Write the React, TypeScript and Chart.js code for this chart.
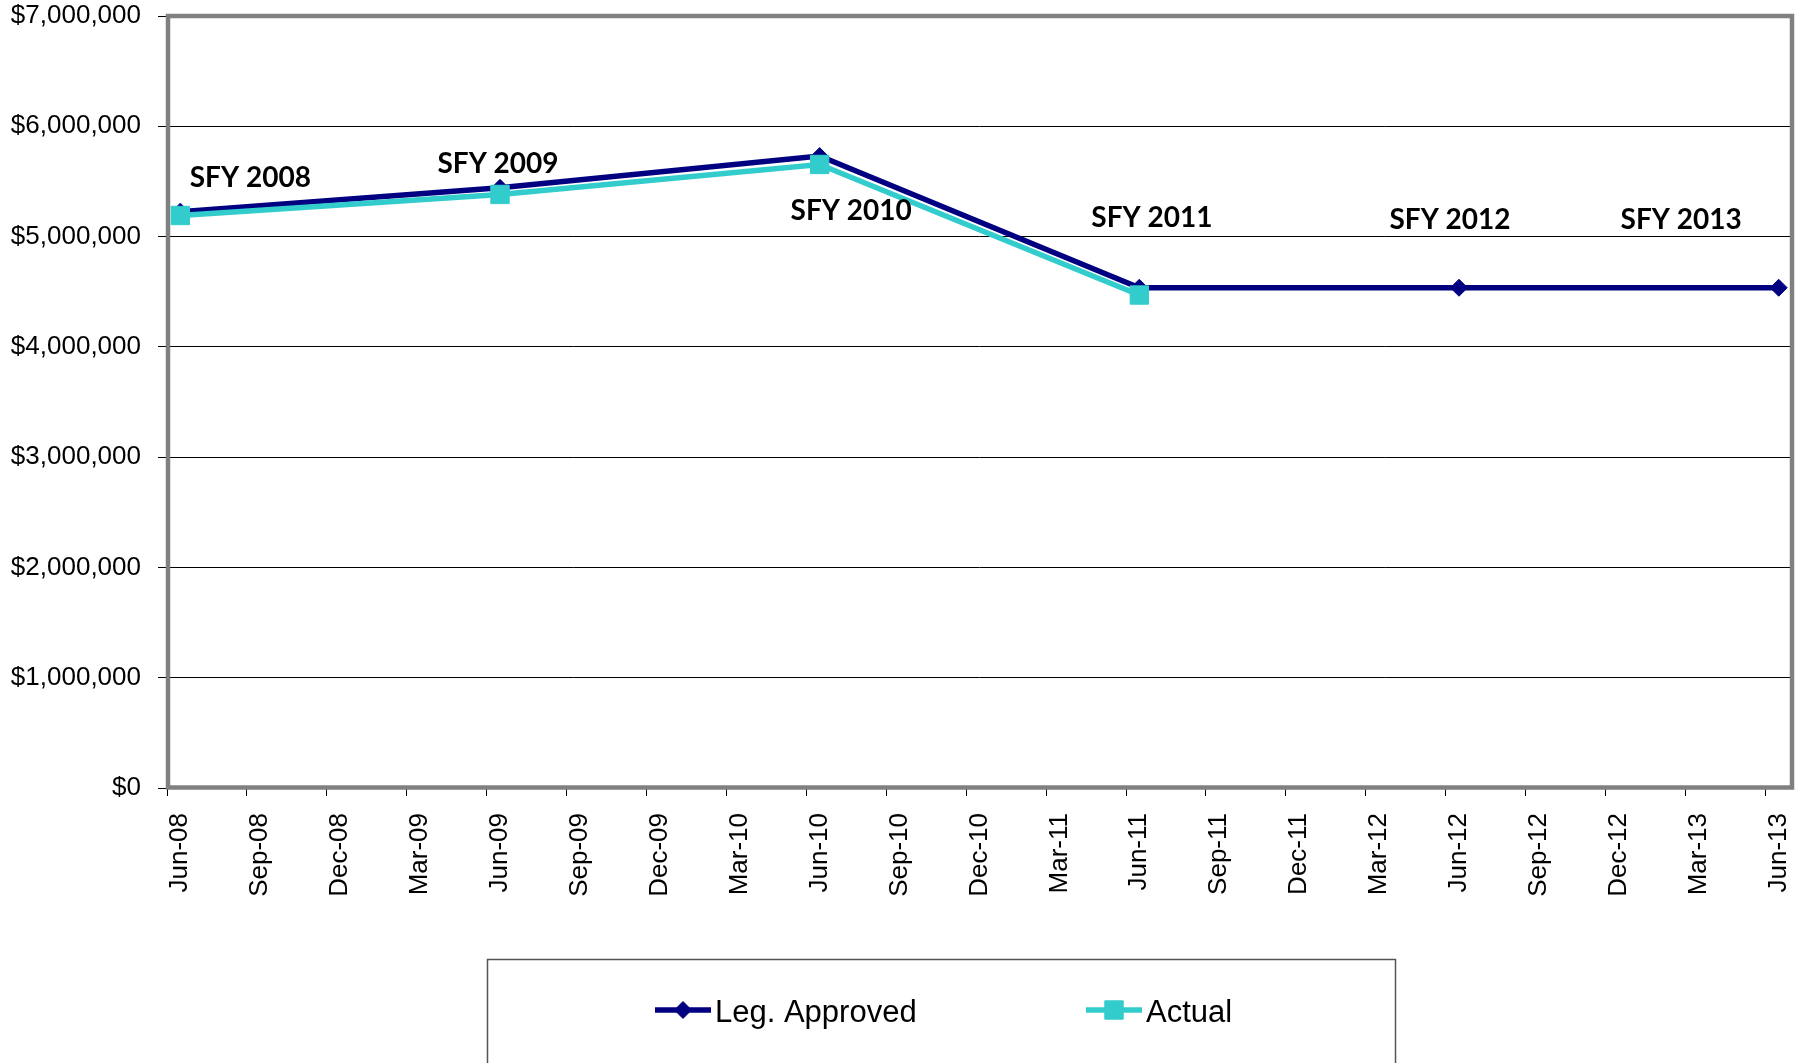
import React, { useEffect, useRef } from 'react';
import { Chart, registerables } from 'chart.js';

Chart.register(...registerables);

// ---------- Data ----------
const xTickLabels = [
  'Jun-08', 'Sep-08', 'Dec-08', 'Mar-09', 'Jun-09', 'Sep-09', 'Dec-09', 'Mar-10',
  'Jun-10', 'Sep-10', 'Dec-10', 'Mar-11', 'Jun-11', 'Sep-11', 'Dec-11', 'Mar-12',
  'Jun-12', 'Sep-12', 'Dec-12', 'Mar-13', 'Jun-13',
];
const yTickLabels = [
  '$0', '$1,000,000', '$2,000,000', '$3,000,000', '$4,000,000',
  '$5,000,000', '$6,000,000', '$7,000,000',
];
const pointDates = ['Jun-08', 'Jun-09', 'Jun-10', 'Jun-11', 'Jun-12', 'Jun-13'];
const fiscalYearLabels = ['SFY 2008', 'SFY 2009', 'SFY 2010', 'SFY 2011', 'SFY 2012', 'SFY 2013'];
const legApproved = [5226000, 5442000, 5730000, 4536000, 4536000, 4536000];
const actual: (number | null)[] = [5191000, 5382000, 5654000, 4470000, null, null];
const seriesNames = ['Leg. Approved', 'Actual'];

// ---------- Styling / layout constants ----------
const NAVY = '#000080';
const TEAL = '#33CCCC';
const TICK_FONT = "'Liberation Sans', Arial, Helvetica, sans-serif";
const LABEL_FONT = "Lato, 'Open Sans', sans-serif";
// label anchor offsets (px) relative to the Leg. Approved point: [dx, dy-baseline]
const labelOffsets = [[70, -25], [-2, -14.5], [31.5, 64], [12.5, -61], [-9, -59], [-97.5, -59]];

// month position on the axis (months since Jun-08), placed mid-month
const monthOf = (d: string) => xTickLabels.indexOf(d) * 3 + 0.5;

function drawMarker(ctx: CanvasRenderingContext2D, style: string, x: number, y: number, r: number, color: string) {
  ctx.save();
  ctx.fillStyle = color;
  ctx.strokeStyle = color;
  ctx.lineWidth = 1;
  ctx.beginPath();
  if (style === 'rectRot') {
    ctx.moveTo(x, y - r);
    ctx.lineTo(x + r, y);
    ctx.lineTo(x, y + r);
    ctx.lineTo(x - r, y);
    ctx.closePath();
  } else {
    const s = Math.SQRT1_2 * r;
    ctx.rect(x - s, y - s, 2 * s, 2 * s);
  }
  ctx.fill();
  ctx.stroke();
  ctx.restore();
}

const framePlugin = {
  id: 'plotFrame',
  beforeDatasetsDraw(chart: any) {
    const { ctx, chartArea: a } = chart;
    ctx.save();
    ctx.strokeStyle = '#808080';
    ctx.lineWidth = 4.5;
    ctx.strokeRect(a.left + 1, a.top, a.right - a.left - 1, a.bottom - a.top - 0.5);
    ctx.restore();
  },
};

const fyLabelPlugin = {
  id: 'fyLabels',
  afterDatasetsDraw(chart: any) {
    const { ctx } = chart;
    const meta = chart.getDatasetMeta(0);
    ctx.save();
    ctx.fillStyle = '#000';
    ctx.font = `bold 28px ${LABEL_FONT}`;
    ctx.textAlign = 'center';
    ctx.textBaseline = 'alphabetic';
    fiscalYearLabels.forEach((t, i) => {
      const p = meta.data[i];
      if (!p) return;
      const [dx, dy] = labelOffsets[i];
      ctx.fillText(t, p.x + dx, p.y + dy);
    });
    ctx.restore();
  },
};

const legendPlugin = {
  id: 'boxLegend',
  afterDraw(chart: any) {
    const { ctx } = chart;
    ctx.save();
    // box
    ctx.strokeStyle = '#555';
    ctx.lineWidth = 1.5;
    ctx.strokeRect(487.5, 959.5, 908, 200);
    // items
    ctx.font = `31px ${TICK_FONT}`;
    ctx.textBaseline = 'alphabetic';
    ctx.textAlign = 'left';
    const y = 1010;
    const starts = [655, 1086];
    chart.data.datasets.forEach((ds: any, i: number) => {
      const x0 = starts[i];
      const x1 = x0 + 56;
      ctx.strokeStyle = ds.borderColor;
      ctx.lineWidth = 5.5;
      ctx.beginPath();
      ctx.moveTo(x0, y);
      ctx.lineTo(x1, y);
      ctx.stroke();
      drawMarker(ctx, ds.pointStyle, (x0 + x1) / 2, y, ds.pointRadius, ds.borderColor);
      ctx.fillStyle = '#000';
      ctx.fillText(ds.label, x1 + 4, 1022);
    });
    ctx.restore();
  },
};

export default function App() {
  const ref = useRef<HTMLCanvasElement | null>(null);

  useEffect(() => {
    if (!ref.current) return;
    const chart = new Chart(ref.current, {
      type: 'line',
      data: {
        datasets: [
          {
            label: seriesNames[0],
            data: pointDates.map((d, i) => ({ x: monthOf(d), y: legApproved[i] })),
            borderColor: NAVY,
            backgroundColor: NAVY,
            borderWidth: 5.5,
            pointStyle: 'rectRot',
            pointRadius: 8.5,
            pointBorderWidth: 1,
            pointBackgroundColor: NAVY,
            pointBorderColor: NAVY,
            tension: 0,
            order: 2,
          },
          {
            label: seriesNames[1],
            data: pointDates
              .map((d, i) => ({ x: monthOf(d), y: actual[i] }))
              .filter((p) => p.y !== null) as any,
            borderColor: TEAL,
            backgroundColor: TEAL,
            borderWidth: 5.5,
            pointStyle: 'rect',
            pointRadius: 13,
            pointBorderWidth: 1,
            pointBackgroundColor: TEAL,
            pointBorderColor: TEAL,
            tension: 0,
            order: 1,
          },
        ] as any,
      },
      options: {
        animation: false,
        responsive: false,
        maintainAspectRatio: false,
        events: [],
        layout: { padding: { left: 0, top: 16, right: 15, bottom: 155 } },
        plugins: {
          legend: { display: false },
          tooltip: { enabled: false },
        },
        scales: {
          x: {
            type: 'linear',
            min: 0,
            max: 61,
            afterFit(s: any) {
              s.height = 120;
              s.paddingLeft = 0;
              s.paddingRight = 0;
            },
            border: { display: false },
            grid: {
              drawOnChartArea: false,
              drawTicks: true,
              tickLength: 8,
              tickColor: '#000',
              lineWidth: 1,
            },
            ticks: {
              stepSize: 3,
              includeBounds: false,
              autoSkip: false,
              minRotation: 90,
              maxRotation: 90,
              labelOffset: 13.3,
              padding: 17,
              color: '#000',
              font: { family: TICK_FONT, size: 26 },
              callback: (v: any) => xTickLabels[Math.round(Number(v) / 3)] ?? '',
            },
          },
          y: {
            min: 0,
            max: 7000000,
            afterFit(s: any) {
              s.width = 167;
              s.paddingTop = 0;
              s.paddingBottom = 0;
            },
            border: { display: false },
            grid: {
              color: '#000',
              lineWidth: 1,
              drawTicks: true,
              tickLength: 9,
              tickColor: '#000',
            },
            ticks: {
              stepSize: 1000000,
              padding: 17,
              color: '#000',
              font: { family: TICK_FONT, size: 26 },
              callback: (_v: any, i: number) => yTickLabels[i] ?? '',
            },
          },
        },
      } as any,
      plugins: [framePlugin, fyLabelPlugin, legendPlugin],
    });
    return () => chart.destroy();
  }, []);

  return (
    <div style={{ position: 'fixed', left: 0, top: 0, width: 1807, height: 1063, background: '#fff' }}>
      <canvas ref={ref} width={1807} height={1063} style={{ display: 'block' }} />
    </div>
  );
}
